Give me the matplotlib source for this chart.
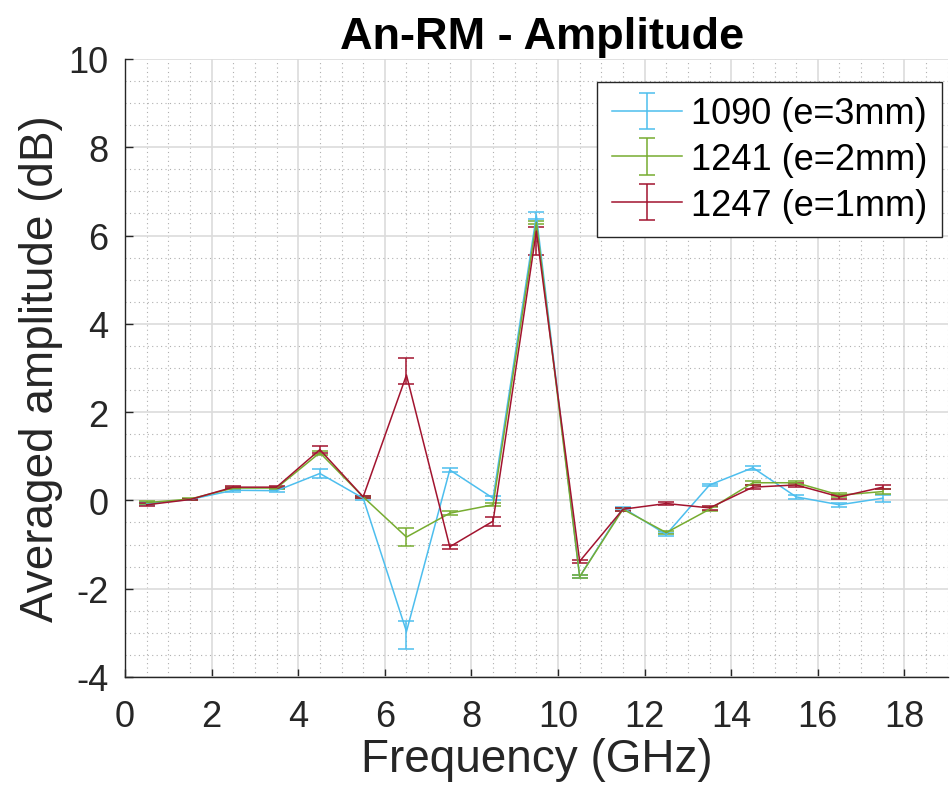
import matplotlib
matplotlib.use("Agg")
import matplotlib.pyplot as plt
import numpy as np
from matplotlib.ticker import MultipleLocator

plt.rcParams['font.family'] = ['Liberation Sans', 'DejaVu Sans']
plt.rcParams['axes.unicode_minus'] = False

freq = [0.5, 1.5, 2.5, 3.5, 4.5, 5.5, 6.5, 7.5, 8.5, 9.5,
        10.5, 11.5, 12.5, 13.5, 14.5, 15.5, 16.5, 17.5]

s1090 = [-0.07, 0.02, 0.23, 0.22, 0.61, 0.05, -2.97, 0.69, 0.05, 6.45,
         -1.73, -0.17, -0.77, 0.35, 0.74, 0.08, -0.10, 0.05]
s1090_lo = [0.03, 0.02, 0.03, 0.03, 0.10, 0.03, 0.39, 0.05, 0.05, 0.08,
            0.03, 0.03, 0.04, 0.03, 0.04, 0.05, 0.04, 0.08]
s1090_hi = [0.03, 0.02, 0.03, 0.03, 0.10, 0.03, 0.23, 0.05, 0.05, 0.08,
            0.03, 0.03, 0.04, 0.03, 0.04, 0.05, 0.04, 0.08]

s1241 = [-0.05, 0.03, 0.28, 0.28, 1.08, 0.08, -0.83, -0.29, -0.10, 6.30,
         -1.73, -0.20, -0.73, -0.20, 0.40, 0.40, 0.12, 0.20]
s1241_lo = [0.03, 0.02, 0.03, 0.03, 0.05, 0.03, 0.20, 0.05, 0.03, 0.04,
            0.03, 0.03, 0.04, 0.04, 0.04, 0.04, 0.04, 0.05]
s1241_hi = s1241_lo

s1247 = [-0.10, 0.02, 0.30, 0.30, 1.15, 0.08, 2.84, -1.05, -0.47, 6.10,
         -1.38, -0.20, -0.07, -0.17, 0.30, 0.35, 0.08, 0.30]
s1247_lo = [0.03, 0.02, 0.03, 0.03, 0.08, 0.03, 0.21, 0.05, 0.10, 0.55,
            0.03, 0.03, 0.03, 0.05, 0.04, 0.04, 0.04, 0.04]
s1247_hi = [0.03, 0.02, 0.03, 0.03, 0.08, 0.03, 0.38, 0.05, 0.10, 0.10,
            0.03, 0.03, 0.03, 0.05, 0.04, 0.04, 0.04, 0.04]

labels = ['1090 (e=3mm)', '1241 (e=2mm)', '1247 (e=1mm)']
colors = ['#4DBEEE', '#77AC30', '#A2142F']

fig = plt.figure(figsize=(9.5, 8.03), dpi=100)
ax = fig.add_axes([0.1316, 0.1557, 0.866, 0.7696])

series = [(s1090, s1090_lo, s1090_hi), (s1241, s1241_lo, s1241_hi), (s1247, s1247_lo, s1247_hi)]
for (v, lo, hi), lab, c in zip(series, labels, colors):
    ax.errorbar(freq, v, yerr=[lo, hi], color=c, lw=1.1, elinewidth=1.1,
                capsize=5.5, capthick=1.1, label=lab)

ax.set_xlim(0, 19)
ax.set_ylim(-4, 10)
ax.xaxis.set_major_locator(MultipleLocator(2))
ax.yaxis.set_major_locator(MultipleLocator(2))
ax.xaxis.set_minor_locator(MultipleLocator(0.5))
ax.yaxis.set_minor_locator(MultipleLocator(0.5))
ax.grid(which='major', color='#dcdcdc', lw=1.2, ls='-')
ax.grid(which='minor', color='#b0b0b0', lw=0.8, ls=(0, (1, 3)))
ax.set_axisbelow(True)
for s in ['top', 'right']:
    ax.spines[s].set_visible(False)
for s in ['left', 'bottom']:
    ax.spines[s].set_color('#262626')
    ax.spines[s].set_linewidth(1.0)
ax.tick_params(which='major', direction='in', length=6, width=1, colors='#262626',
               labelsize=26, labelcolor='#262626')
ax.tick_params(axis='y', which='major', pad=12)
ax.tick_params(axis='x', which='major', pad=16)
ax.tick_params(which='minor', length=0)

ax.set_xlabel('Frequency (GHz)', fontsize=33, color='#262626', labelpad=2)
ax.set_ylabel('Averaged amplitude (dB)', fontsize=33, color='#262626', labelpad=4)
ax.set_title('An-RM - Amplitude', fontsize=32.5, fontweight='bold', color='black',
             pad=8, x=0.507)

leg = ax.legend(loc='upper right', bbox_to_anchor=(0.993, 0.963), fontsize=26,
                frameon=True, fancybox=False, framealpha=1, edgecolor='#262626',
                handlelength=1.95, handletextpad=0.25, labelspacing=0.3,
                borderpad=0.4, borderaxespad=0)
leg.get_frame().set_linewidth(1.0)

fig.savefig('out.png', dpi=100)
